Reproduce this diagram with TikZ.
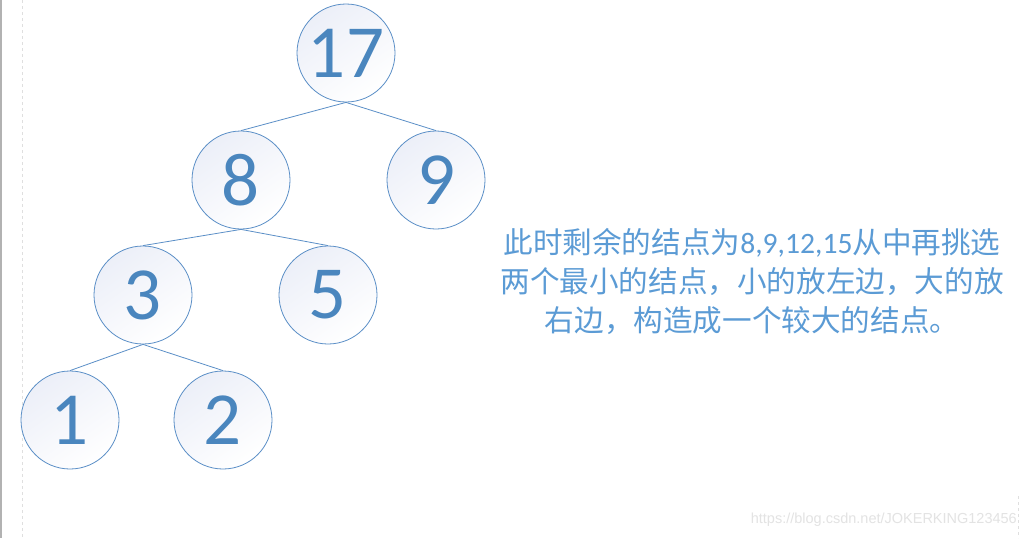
\documentclass[tikz,border=0pt]{standalone}
\usepackage{fontspec}
\setmainfont{Carlito}
\newfontfamily\cjk{Noto Sans CJK SC}
\newfontfamily\wm{Liberation Sans}
\definecolor{numblue}{HTML}{4A86BE}
\definecolor{lineblue}{HTML}{5B8FC7}
\definecolor{txtblue}{HTML}{5B9BD5}
\definecolor{fillgray}{HTML}{ECEFF8}
\begin{document}
\begin{tikzpicture}[x=1pt,y=1pt,
  treenode/.style={circle,draw=lineblue,line width=0.8pt,minimum size=98pt,inner sep=0pt,
    top color=fillgray,bottom color=white,shading angle=35,
    text=numblue,font=\fontsize{75}{75}\selectfont},
  edge/.style={draw=lineblue,line width=0.8pt}]
\useasboundingbox (0,0) rectangle (1027,-538);
\fill[white] (0,0) rectangle (1027,-538);
\fill[gray!60] (0,0) rectangle (1.6,-538);
\draw[gray!25,dashed,line width=0.8pt] (22,0) -- (22,-538);
\draw[gray!25,dashed,line width=0.8pt] (1018,-496) -- (1018,-538);
\node[treenode] (n17) at (346,-53) {17};
\node[treenode] (n8) at (241,-180) {8};
\node[treenode] (n9) at (436,-180) {9};
\node[treenode] (n3) at (143,-295) {3};
\node[treenode] (n5) at (328,-295) {5};
\node[treenode] (n1) at (70,-420) {1};
\node[treenode] (n2) at (223,-420) {2};
\draw[edge] (n17.south) -- (n8.north);
\draw[edge] (n17.south) -- (n9.north);
\draw[edge] (n8.south) -- (n3.north);
\draw[edge] (n8.south) -- (n5.north);
\draw[edge] (n3.south) -- (n1.north);
\draw[edge] (n3.south) -- (n2.north);
\node[text=txtblue,align=center,font=\fontsize{29.6}{39}\selectfont,inner sep=0pt] (desc) at (752,-281)
  {{\cjk 此时剩余的结点为}8,9,12,15{\cjk 从中再挑选}\\
   {\cjk 两个最小的结点，小的放左边，大的放}\\
   {\cjk 右边，构造成一个较大的结点。}};
\node[anchor=south east,inner sep=0pt,text=gray!22,font=\wm\fontsize{14.5}{16}\selectfont] (wmark) at (1017,-527)
  {https://blog.csdn.net/JOKERKING123456};
\end{tikzpicture}
\end{document}
